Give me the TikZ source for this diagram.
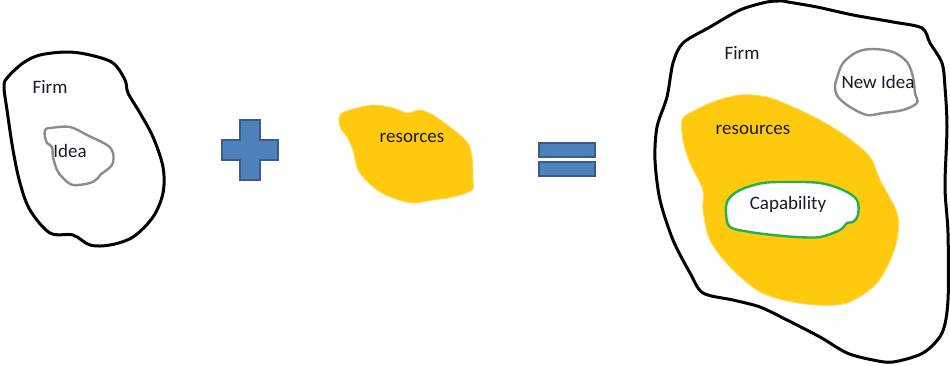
\documentclass[tikz,border=0pt]{standalone}
\usepackage{fontspec}
\setmainfont{Carlito}
\definecolor{blobyellow}{HTML}{FFC90E}
\definecolor{ideagray}{HTML}{8C8C8C}
\definecolor{capgreen}{HTML}{22B14C}
\definecolor{symblue}{HTML}{4F81BD}
\definecolor{symedge}{HTML}{385D8A}
\definecolor{txt}{HTML}{1A1A2A}
\tikzset{
  firmline/.style={draw=black, line width=1.5pt, line join=round},
  idealine/.style={draw=ideagray, line width=1.2pt, fill=white},
  resblob/.style={fill=blobyellow, draw=blobyellow!70!white, line width=0.4pt},
  capline/.style={draw=capgreen, line width=1.2pt, fill=white},
  symbol/.style={fill=symblue, draw=symedge, line width=1.2pt},
  lbl/.style={text=txt, font=\fontsize{9.5}{11}\selectfont, inner sep=0pt}
}
\begin{document}
\begin{tikzpicture}[x=0.5pt, y=-0.5pt]
\useasboundingbox (0,0) rectangle (950,365);
\fill[white] (0,0) rectangle (950,365);

% left firm
\draw[firmline] plot[smooth cycle, tension=0.55] coordinates {
 (7,78) (23,63) (40,55) (67,52) (90,55) (113,63) (125,80) (128,93) (140,113)
 (153,137) (163,167) (163,193) (153,217) (133,237) (110,245) (90,245) (73,235)
 (50,233) (30,210) (20,183) (13,150) (7,110) (4,87)};
\node[lbl] (firmL) at (50,87) {Firm};
\draw[idealine] plot[smooth cycle, tension=0.55] coordinates {
 (45,130) (50,128) (70,127) (87,135) (107,145) (113,153) (112,165) (100,175)
 (98,178) (90,183) (73,185) (63,178) (57,170) (53,157) (52,147) (47,143) (45,137)};
\node[lbl] (ideaL) at (70,151) {Idea};

% plus
\draw[symbol] (240,120) -- (260,120) -- (260,140) -- (278,140) -- (278,160) -- (260,160)
 -- (260,180) -- (240,180) -- (240,160) -- (222,160) -- (222,140) -- (240,140) -- cycle;

% resources blob
\draw[resblob] plot[smooth cycle, tension=0.55] coordinates {
 (340,115) (350,110) (373,105) (393,108) (407,113) (420,110) (433,115) (450,127)
 (467,142) (472,157) (473,180) (472,190) (453,197) (433,200) (413,203) (393,198)
 (377,190) (363,177) (357,167) (353,150) (347,137) (340,127)};
\node[lbl] (resA) at (412,138) {resorces};

% equals
\draw[symbol] (539,143) rectangle (595,157);
\draw[symbol] (539,162) rectangle (595,176);

% right firm
\draw[firmline] plot[smooth cycle, tension=0.5] coordinates {
 (788,2) (817,7) (853,15) (893,22) (922,28) (930,43) (942,63) (945,87) (947,127)
 (945,187) (948,233) (948,300) (942,333) (923,353) (893,362) (873,360) (847,353)
 (820,337) (787,320) (760,307) (733,300) (703,293) (690,273) (673,240) (660,200)
 (655,160) (657,127) (667,97) (673,63) (683,43) (710,27) (740,10) (767,2) (783,1)};
\node[lbl] (firmR) at (742,53) {Firm};

\draw[idealine] plot[smooth cycle, tension=0.55] coordinates {
 (837,78) (843,63) (857,52) (873,49) (893,52) (907,62) (913,77) (915,93) (917,103)
 (903,110) (883,113) (867,115) (850,107) (838,97) (835,87)};
\node[lbl] (newidea) at (878,82) {New Idea};

\draw[resblob] plot[smooth cycle, tension=0.55] coordinates {
 (682,120) (690,113) (713,102) (740,95) (767,97) (793,107) (820,120) (847,137)
 (870,157) (880,180) (897,213) (897,240) (887,267) (873,287) (847,303) (817,305)
 (783,300) (757,290) (730,267) (710,240) (703,210) (703,190) (690,163) (683,140)};
\node[lbl] (resB) at (753,130) {resources};

\draw[capline] plot[smooth cycle, tension=0.55] coordinates {
 (728,200) (740,190) (763,183) (790,182) (820,183) (843,190) (857,200) (858,215)
 (853,222) (847,223) (840,230) (820,237) (797,237) (773,235) (750,232) (730,227) (726,213)};
\node[lbl] (cap) at (788,204) {Capability};
\end{tikzpicture}
\end{document}
